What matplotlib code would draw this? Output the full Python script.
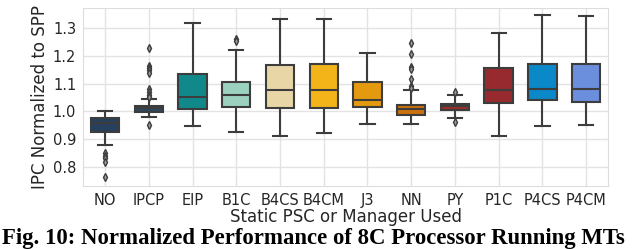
import numpy as np
import matplotlib.pyplot as plt

# categories and box statistics
labels = ['NO', 'IPCP', 'EIP', 'B1C', 'B4CS', 'B4CM', 'J3', 'NN', 'PY', 'P1C', 'P4CS', 'P4CM']
whislo = [0.878, 0.979, 0.948, 0.925, 0.912, 0.920, 0.953, 0.953, 0.976, 0.909, 0.948, 0.951]
q1 = [0.925, 0.999, 1.007, 1.015, 1.013, 1.013, 1.015, 0.987, 1.005, 1.030, 1.039, 1.035]
med = [0.957, 1.011, 1.052, 1.060, 1.078, 1.075, 1.042, 1.007, 1.020, 1.078, 1.079, 1.079]
q3 = [0.975, 1.018, 1.135, 1.105, 1.168, 1.170, 1.104, 1.023, 1.027, 1.157, 1.171, 1.170]
whishi = [1.000, 1.046, 1.318, 1.220, 1.334, 1.334, 1.212, 1.077, 1.060, 1.281, 1.348, 1.343]
fliers = [
    [0.850, 0.840, 0.830, 0.815, 0.763],
    [1.230, 1.163, 1.155, 1.150, 1.138, 1.080, 1.070, 1.060, 1.050, 0.952],
    [],
    [1.260, 1.255],
    [],
    [],
    [],
    [1.248, 1.206, 1.158, 1.152, 1.118, 1.090, 1.084],
    [1.068, 0.962],
    [],
    [],
    [],
]
colors = ['#26405e', '#2c4862', '#11898b', '#9dd1bf', '#e8d6a6', '#f2b419',
          '#e49a0e', '#cc710b', '#9e2d2b', '#962a2e', '#0b88c8', '#6b8fdd']

stats = []
for i in range(len(labels)):
    stats.append(dict(med=med[i], q1=q1[i], q3=q3[i], whislo=whislo[i],
                      whishi=whishi[i], fliers=fliers[i]))

fig = plt.figure(figsize=(6.4, 2.49), dpi=100)
ax = fig.add_axes([0.130, 0.253, 0.820, 0.715])

edge = '#3d3d3d'
bp = ax.bxp(stats, positions=range(len(labels)), widths=0.65, patch_artist=True,
            boxprops=dict(edgecolor=edge, linewidth=1.5),
            medianprops=dict(color=edge, linewidth=1.5),
            whiskerprops=dict(color=edge, linewidth=1.5),
            capprops=dict(color=edge, linewidth=1.5),
            flierprops=dict(marker='d', markersize=3.8, markerfacecolor='#9a9a9a',
                            markeredgecolor=edge, markeredgewidth=1.0, linestyle='none'))
for patch, c in zip(bp['boxes'], colors):
    patch.set_facecolor(c)

ax.set_xlim(-0.5, len(labels) - 0.5)
ax.set_ylim(0.730, 1.373)
ax.set_yticks([0.8, 0.9, 1.0, 1.1, 1.2, 1.3])
ax.set_xticks(range(len(labels)))
ax.set_xticklabels(labels)
ax.tick_params(length=0, labelsize=10.5, colors='#262626', pad=5)
ax.grid(True, color='#e3e3e3', linewidth=1)
ax.set_axisbelow(True)
for s in ax.spines.values():
    s.set_color('#dddddd')

ax.set_xlabel('Static PSC or Manager Used', fontsize=12, color='#262626', labelpad=0)
ax.set_ylabel('IPC Normalized to SPP', fontsize=12, color='#262626', labelpad=3)

fig.text(0.003, 0.022, 'Fig. 10: Normalized Performance of 8C Processor Running MTs',
         family='Liberation Serif', fontweight='bold', fontsize=16.4, color='black')

fig.savefig('out.png', dpi=100)
